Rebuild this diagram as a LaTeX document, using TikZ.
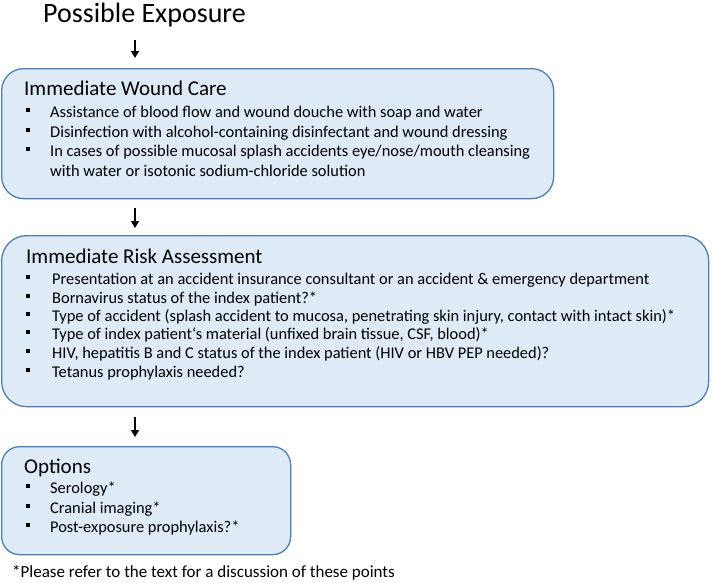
\documentclass[tikz,border=0pt]{standalone}
\usepackage{fontspec}
\setmainfont{Carlito}
\usetikzlibrary{arrows.meta}
\definecolor{boxfill}{RGB}{222,234,246}
\definecolor{boxline}{RGB}{80,126,178}
\tikzset{
  box/.style={draw=boxline, fill=boxfill, line width=1.3pt, anchor=north west, inner sep=0pt},
  title/.style={font=\fontsize{28}{31}\selectfont, anchor=base west, inner sep=0pt},
  head/.style={font=\fontsize{21}{24}\selectfont, anchor=base west, inner sep=0pt},
  body/.style={font=\fontsize{16.4}{19}\selectfont, anchor=base west, inner sep=0pt},
  note/.style={font=\fontsize{17}{20}\selectfont, anchor=base west, inner sep=0pt},
  flowarrow/.style={-{Triangle[length=7pt,width=8pt]}, line width=2pt, black},
}
\newcommand{\bulsq}[1]{\fill[black] (25.5,#1-9.5) rectangle (30,#1-5);}
\begin{document}
\begin{tikzpicture}[x=1pt,y=-1pt]
\useasboundingbox (0,0) rectangle (712,582);
% boxes
\node[box, rounded corners=22pt, minimum width=552pt, minimum height=130pt] (wc) at (1,68) {};
\node[box, rounded corners=25pt, minimum width=707pt, minimum height=171pt] (ra) at (1,235) {};
\node[box, rounded corners=18pt, minimum width=289pt, minimum height=108pt] (op) at (1,446) {};
% title
\node[title] (pe) at (43,22) {Possible Exposure};
% arrows
\coordinate (a1s) at (135,40); \coordinate (a1e) at (135,58);
\coordinate (a2s) at (135,208); \coordinate (a2e) at (135,228);
\coordinate (a3s) at (135,417); \coordinate (a3e) at (135,437);
\draw[flowarrow] (a1s) -- (a1e);
\draw[flowarrow] (a2s) -- (a2e);
\draw[flowarrow] (a3s) -- (a3e);
% box 1
\node[head] (wch) at (24,95) {Immediate Wound Care};
\node[body] (wc1) at (50,117) {Assistance of blood flow and wound douche with soap and water};
\node[body] (wc2) at (50,137) {Disinfection with alcohol-containing disinfectant and wound dressing};
\node[body] (wc3) at (50,156) {In cases of possible mucosal splash accidents eye/nose/mouth cleansing};
\node[body] (wc4) at (50,176) {with water or isotonic sodium-chloride solution};
\bulsq{117}\bulsq{137}\bulsq{156}
% box 2
\node[head] (rah) at (26,263) {Immediate Risk Assessment};
\node[body] (ra1) at (52,284) {Presentation at an accident insurance consultant or an accident \& emergency department};
\node[body] (ra2) at (52,303) {Bornavirus status of the index patient?*};
\node[body] (ra3) at (52,321) {Type of accident (splash accident to mucosa, penetrating skin injury, contact with intact skin)*};
\node[body] (ra4) at (52,339) {Type of index patient‘s material (unfixed brain tissue, CSF, blood)*};
\node[body] (ra5) at (52,358) {HIV, hepatitis B and C status of the index patient (HIV or HBV PEP needed)?};
\node[body] (ra6) at (52,377) {Tetanus prophylaxis needed?};
\bulsq{284}\bulsq{303}\bulsq{321}\bulsq{339}\bulsq{358}\bulsq{377}
% box 3
\node[head] (oph) at (24,473) {Options};
\node[body] (op1) at (50,493) {Serology*};
\node[body] (op2) at (50,513) {Cranial imaging*};
\node[body] (op3) at (50,532) {Post-exposure prophylaxis?*};
\bulsq{493}\bulsq{513}\bulsq{532}
% footnote
\node[note] (fn) at (12,577) {*Please refer to the text for a discussion of these points};
\end{tikzpicture}
\end{document}
